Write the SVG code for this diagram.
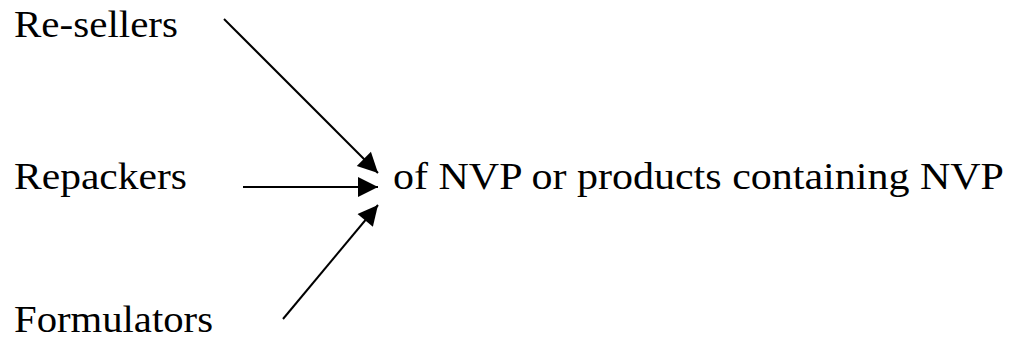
<svg xmlns="http://www.w3.org/2000/svg" width="1018" height="343" viewBox="0 0 1018 343">
  <style>
    .lbl { font-family: "Liberation Serif", "Times New Roman", serif; font-size: 38px; fill: #000; }
    .arrow { stroke: #000; stroke-width: 2; fill: none; marker-end: url(#head); }
  </style>
  <defs>
    <!-- solid triangular arrowhead shared by all connectors -->
    <marker id="head" viewBox="0 0 10 10" refX="10" refY="5" markerWidth="11" markerHeight="10" markerUnits="strokeWidth" orient="auto">
      <path d="M0,0 L10,5 L0,10 Z" fill="#000"/>
    </marker>
  </defs>
  <rect width="1018" height="343" fill="#fff"/>
  <g id="resellers"><text class="lbl" x="14" y="37" textLength="164" lengthAdjust="spacingAndGlyphs">Re-sellers</text></g>
  <g id="repackers"><text class="lbl" x="14" y="189" textLength="173" lengthAdjust="spacingAndGlyphs">Repackers</text></g>
  <g id="formulators"><text class="lbl" x="14" y="332" textLength="199" lengthAdjust="spacingAndGlyphs">Formulators</text></g>
  <g id="target"><text class="lbl" x="393" y="189" textLength="611" lengthAdjust="spacingAndGlyphs">of NVP or products containing NVP</text></g>
  <g id="connectors">
    <line class="arrow" x1="224" y1="19" x2="378" y2="173"/>
    <line class="arrow" x1="243" y1="187" x2="378" y2="187"/>
    <line class="arrow" x1="283" y1="319" x2="378" y2="205"/>
  </g>
</svg>
